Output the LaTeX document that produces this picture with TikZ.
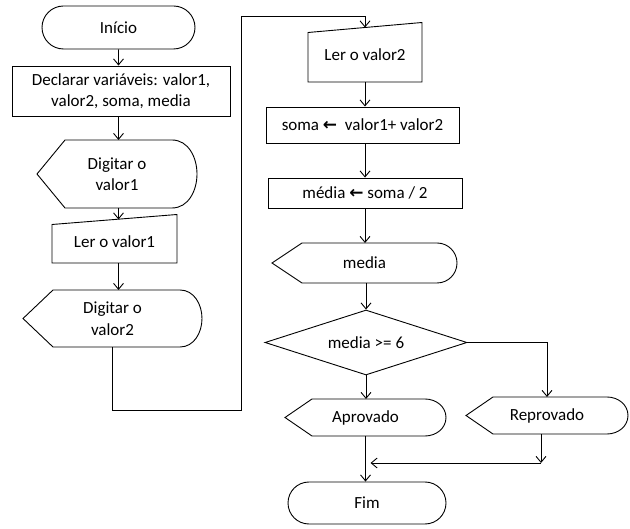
\documentclass[tikz,border=0pt]{standalone}
\usepackage{fontspec}
\setmainfont{Carlito}
\newfontfamily\symfont{DejaVu Sans}
\usetikzlibrary{shapes,arrows.meta}

\begin{document}
\begin{tikzpicture}[
    x=1pt, y=1pt, line width=0.9pt,
    font=\fontsize{17}{21.5}\selectfont,
    box/.style={rectangle, draw, inner sep=0pt, align=center},
    terminal/.style={rounded rectangle, draw, inner sep=0pt},
    display/.style={rectangle, inner sep=0pt, outer sep=0pt, align=center},
    manual/.style={rectangle, inner sep=0pt, outer sep=0pt, align=center},
    decision/.style={diamond, draw, inner sep=0pt, aspect=3},
    arrow/.style={-{Straight Barb[length=6pt,width=10pt]}}
]
    \useasboundingbox (0,0) rectangle (630,-529);

    % Left column
    \node[terminal, minimum width=153, minimum height=43] (inicio) at (118.5,-27.5) {Início};
    \node[box, minimum width=218, minimum height=50] (declarar) at (121,-91) {Declarar variáveis: valor1,\\valor2, soma, media};
    \node[display, minimum width=160, minimum height=68] (dig1) at (117,-174) {Digitar o\\valor1};
    \node[manual, minimum width=125, minimum height=43.5] (ler1) at (114.5,-241.25) {Ler o valor1};
    \node[display, minimum width=179, minimum height=57] (dig2) at (112.5,-318.5) {Digitar o\\valor2};

    % Right column
    \node[manual, minimum width=114, minimum height=54.5] (ler2) at (365,-54.75) {Ler o valor2};
    \node[box, minimum width=193, minimum height=36] (soma) at (362.5,-125) {soma {\symfont\bfseries ←}\ \ valor1+ valor2};
    \node[box, minimum width=194, minimum height=30] (mediacalc) at (365,-193) {média {\symfont\bfseries ←} soma / 2};
    \node[display, minimum width=185, minimum height=40] (mediaout) at (364.5,-263) {media};
    \node[decision, minimum width=202, minimum height=65] (teste) at (366,-342.5) {media >= 6};
    \node[display, minimum width=161, minimum height=37] (aprovado) at (365.5,-417.5) {Aprovado};
    \node[display, minimum width=162, minimum height=37] (reprovado) at (547,-415.5) {Reprovado};
    \node[terminal, minimum width=158, minimum height=42] (fim) at (367,-503) {Fim};

    % Outlines of display and manual input shapes
    \foreach \n/\p/\r in {dig1/28/25, dig2/30/22, mediaout/30/20, aprovado/27/21, reprovado/27/21}
        \draw ([xshift=\p]\n.north west) -- ([xshift=-\r]\n.north east) to[out=0,in=90] (\n.east)
            to[out=-90,in=0] ([xshift=-\r]\n.south east) -- ([xshift=\p]\n.south west) -- (\n.west) -- cycle;
    \foreach \n in {ler1, ler2}
        \draw ([yshift=-5]\n.north west) -- ([yshift=5]\n.north east) -- (\n.south east) -- (\n.south west) -- cycle;

    % Bends and joins
    \coordinate (bendA) at (241,-410);
    \coordinate (bendB) at (241,-16);
    \coordinate (merge) at (541,-463);

    % Arrows
    \draw[arrow] (inicio) -- (declarar.north -| inicio);
    \draw[arrow] (declarar.south -| inicio) -- (dig1.north -| inicio);
    \draw[arrow] (dig1.south -| inicio) -- (ler1.north -| inicio);
    \draw[arrow] (ler1.south -| inicio) -- (dig2.north -| inicio);
    \draw[arrow] (dig2.south) |- (bendA) -- (bendB) -| (ler2.north);
    \draw[arrow] (ler2) -- (ler2 |- soma.north);
    \draw[arrow] (soma.south -| ler2) -- (ler2 |- mediacalc.north);
    \draw[arrow] (mediacalc) -- (mediacalc |- mediaout.north);
    \draw[arrow] (mediaout.south -| teste) -- (teste);
    \draw[arrow] (teste) -- (teste |- aprovado.north);
    \draw[arrow] (teste.east) -| (reprovado.north);
    \draw[arrow] (reprovado.south -| merge) -- (merge);
    \draw[arrow] (merge) -- ([xshift=5]merge -| aprovado);
    \draw[arrow] (aprovado) -- (aprovado |- fim.north);
\end{tikzpicture}
\end{document}
